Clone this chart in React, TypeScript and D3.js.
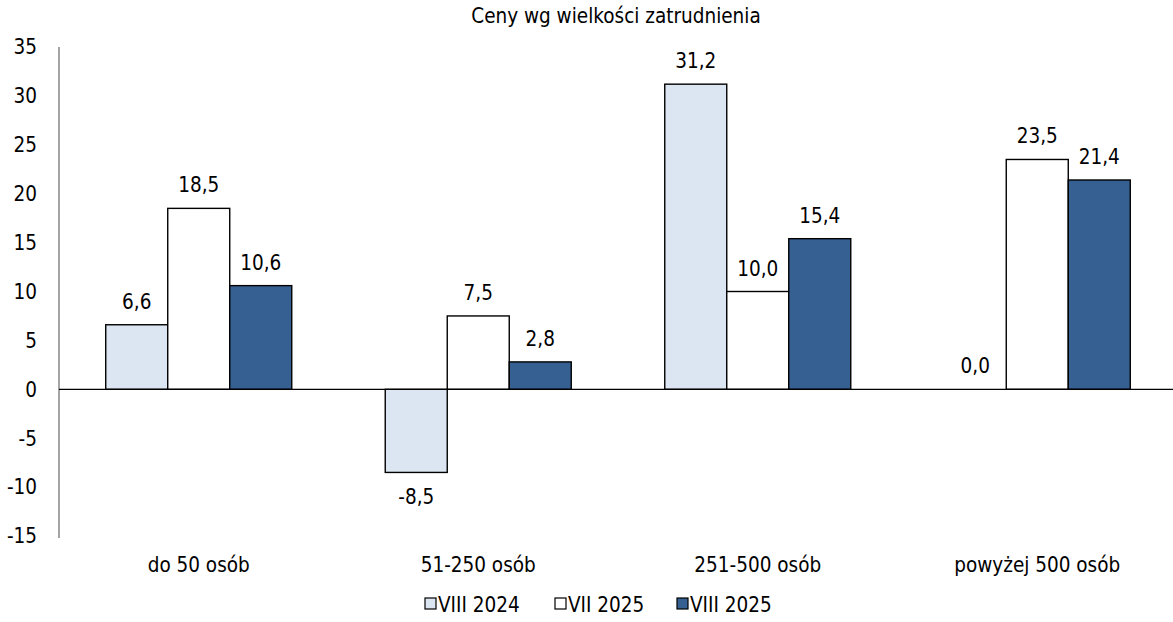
import React from 'react';
import * as d3 from 'd3';

const categories = ['do 50 osób', '51-250 osób', '251-500 osób', 'powyżej 500 osób'];
const seriesNames = ['VIII 2024', 'VII 2025', 'VIII 2025'];
const viii2024 = [6.6, -8.5, 31.2, 0.0];
const vii2025 = [18.5, 7.5, 10.0, 23.5];
const viii2025 = [10.6, 2.8, 15.4, 21.4];
const yTicks = [35, 30, 25, 20, 15, 10, 5, 0, -5, -10, -15];
const colors = ['#dce6f2', '#ffffff', '#366092'];

const W = 1173;
const H = 622;
const FONT = '"DejaVu Sans", Verdana, sans-serif';
const FS = 20.5;

export default function App() {
  const series = [viii2024, vii2025, viii2025];
  // obszar wykresu
  const left = 59, right = 1177, top = 47, bottom = 536;

  const x = d3.scaleBand<string>().domain(categories).range([left, right]).paddingInner(0.3345).paddingOuter(0.1672);
  const xs = d3.scaleBand<string>().domain(seriesNames).range([0, x.bandwidth()]);
  const y = d3.scaleLinear().domain([-15, 35]).range([bottom, top]);

  const fmt = (v: number) => v.toFixed(1).replace('.', ',');

  return (
    <svg width={W} height={H} style={{ position: 'absolute', left: 0, top: 0, fontFamily: FONT, fontStretch: 'condensed' }}>
      <rect width={W} height={H} fill="#fff" />
      <text x={616} y={23} textAnchor="middle" fontSize={FS} fill="#000">Ceny wg wielkości zatrudnienia</text>

      {/* oś Y */}
      <line x1={left} x2={left} y1={top} y2={bottom + 2} stroke="#868686" strokeWidth={1.5} />
      {yTicks.map(t => (
        <text key={t} x={37} y={y(t)} dy="0.36em" textAnchor="end" fontSize={FS} fill="#000">{t}</text>
      ))}

      {/* słupki */}
      {categories.map((c, i) => (
        <g key={c} transform={`translate(${x(c)},0)`}>
          {series.map((s, j) => {
            const v = s[i];
            const bx = xs(seriesNames[j])!;
            const y0 = y(0), y1 = y(v);
            return (
              <g key={j}>
                {v !== 0 && (
                  <rect x={bx} y={Math.min(y0, y1)} width={xs.bandwidth()} height={Math.abs(y1 - y0)}
                    fill={colors[j]} stroke="#000" strokeWidth={1.4} />
                )}
                <text x={bx + xs.bandwidth() / 2} y={v >= 0 ? y1 - 16 : y1 + 32}
                  textAnchor="middle" fontSize={FS} fill="#000">{fmt(v)}</text>
              </g>
            );
          })}
        </g>
      ))}

      {/* linia zera */}
      <line x1={left} x2={W} y1={y(0)} y2={y(0)} stroke="#000" strokeWidth={1.3} />

      {/* kategorie */}
      {categories.map(c => (
        <text key={c} x={x(c)! + x.bandwidth() / 2} y={572} textAnchor="middle" fontSize={FS} fill="#000">{c}</text>
      ))}

      {/* legenda */}
      {[425, 555, 677].map((lx, j) => (
        <g key={j}>
          <rect x={lx} y={598} width={11} height={11} fill={colors[j]} stroke="#000" strokeWidth={1.2} />
          <text x={lx + 13} y={612} fontSize={FS} fill="#000">{seriesNames[j]}</text>
        </g>
      ))}
    </svg>
  );
}
